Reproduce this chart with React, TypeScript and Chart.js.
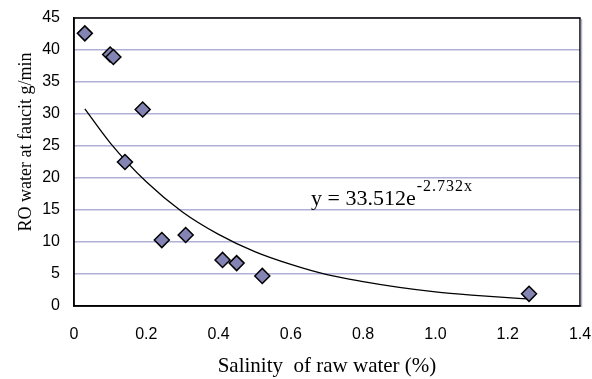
import React, { useEffect, useRef } from "react";
import { Chart, registerables } from "chart.js";

Chart.register(...registerables);

// Measured points
const salinity = [0.03, 0.1, 0.109, 0.19, 0.141, 0.243, 0.309, 0.411, 0.45, 0.521, 1.259];
const roWater = [42.6, 39.3, 38.9, 30.7, 22.5, 10.3, 11.1, 7.2, 6.7, 4.7, 1.9];

// Trend line
const trendX = [0.03, 0.1, 0.2, 0.3, 0.4, 0.5, 0.6, 0.7, 0.8, 0.9, 1.0, 1.1, 1.2, 1.26];
const trendY = [30.8, 25.5, 19.4, 14.7, 11.2, 8.5, 6.5, 4.9, 3.8, 2.9, 2.2, 1.7, 1.3, 1.1];

const xTickMin = 0;
const xTickMax = 1.4;
const xTickStep = 0.2;
const yTickMin = 0;
const yTickMax = 45;
const yTickStep = 5;

const xTitle = "Salinity  of raw water (%)";
const yTitle = "RO water at faucit g/min";
const eqMain = "y = 33.512e";
const eqSup = "-2.732x";

const SERIF = "'Liberation Serif', 'Times New Roman', serif";
const SANS = "'Liberation Sans', Arial, sans-serif";

const decorPlugin = {
  id: "decor",
  afterDraw(chart: any) {
    const ctx = chart.ctx;
    const a = chart.chartArea;
    ctx.save();
    // plot border
    ctx.strokeStyle = "#000";
    ctx.lineWidth = 1.5;
    ctx.strokeRect(a.left, a.top, a.right - a.left, a.bottom - a.top);
    ctx.strokeStyle = "#b4b4d0";
    ctx.lineWidth = 1.5;
    ctx.beginPath();
    ctx.moveTo(a.right + 1.5, a.top + 1);
    ctx.lineTo(a.right + 1.5, a.bottom + 1);
    ctx.stroke();

    // equation
    ctx.fillStyle = "#000";
    ctx.textBaseline = "alphabetic";
    ctx.textAlign = "left";
    ctx.font = `22px ${SERIF}`;
    ctx.fillText(eqMain, 311, 205);
    const w = ctx.measureText(eqMain).width;
    ctx.font = `16px ${SERIF}`;
    (ctx as any).letterSpacing = "1px";
    ctx.fillText(eqSup, 311 + w + 1, 191);
    (ctx as any).letterSpacing = "0px";

    // x title
    ctx.font = `21px ${SERIF}`;
    ctx.textAlign = "center";
    ctx.fillText(xTitle, (a.left + a.right) / 2, 372);

    // y title
    ctx.font = `18px ${SERIF}`;
    ctx.translate(31, 142);
    ctx.rotate(-Math.PI / 2);
    ctx.fillText(yTitle, 0, 0);
    ctx.restore();
  },
};

export default function App() {
  const ref = useRef<HTMLCanvasElement>(null);
  useEffect(() => {
    if (!ref.current) return;
    const chart = new Chart(ref.current, {
      type: "scatter",
      data: {
        datasets: [
          {
            label: "trend",
            data: trendX.map((x, i) => ({ x, y: trendY[i] })),
            showLine: true,
            borderColor: "#000",
            borderWidth: 1.3,
            pointRadius: 0,
            cubicInterpolationMode: "monotone",
            order: 2,
          } as any,
          {
            label: "data",
            data: salinity.map((x, i) => ({ x, y: roWater[i] })),
            pointStyle: "rectRot",
            pointRadius: 7.5,
            pointBackgroundColor: "#8484b4",
            pointBorderColor: "#000",
            pointBorderWidth: 1.5,
            showLine: false,
            order: 1,
          } as any,
        ],
      },
      options: {
        animation: false,
        responsive: false,
        maintainAspectRatio: false,
        layout: { padding: { top: 18, right: 12, left: 0, bottom: 0 } },
        plugins: {
          legend: { display: false },
          tooltip: { enabled: false },
        },
        scales: {
          x: {
            type: "linear",
            min: xTickMin,
            max: xTickMax,
            afterFit: (s: any) => {
              s.height = 73;
              s.paddingLeft = 0;
              s.paddingRight = 0;
            },
            ticks: {
              stepSize: xTickStep,
              color: "#000",
              font: { family: SANS, size: 16 },
              padding: 19,
              maxRotation: 0,
            },
            grid: { display: false, drawTicks: false },
            border: { display: true, color: "#000", width: 1.5 },
          },
          y: {
            type: "linear",
            min: yTickMin,
            max: yTickMax,
            afterFit: (s: any) => {
              s.width = 74;
              s.paddingTop = 0;
              s.paddingBottom = 0;
            },
            ticks: {
              stepSize: yTickStep,
              color: "#000",
              font: { family: SANS, size: 16 },
              padding: 14,
            },
            grid: { color: "#b0b0d8", lineWidth: 1.5, drawTicks: false },
            border: { display: true, color: "#000", width: 1.5 },
          },
        },
      },
      plugins: [decorPlugin],
    });
    return () => chart.destroy();
  }, []);
  return (
    <div style={{ position: "fixed", left: 0, top: 0, width: 592, height: 379, background: "#fff" }}>
      <canvas ref={ref} width={592} height={379} style={{ width: 592, height: 379 }} />
    </div>
  );
}
